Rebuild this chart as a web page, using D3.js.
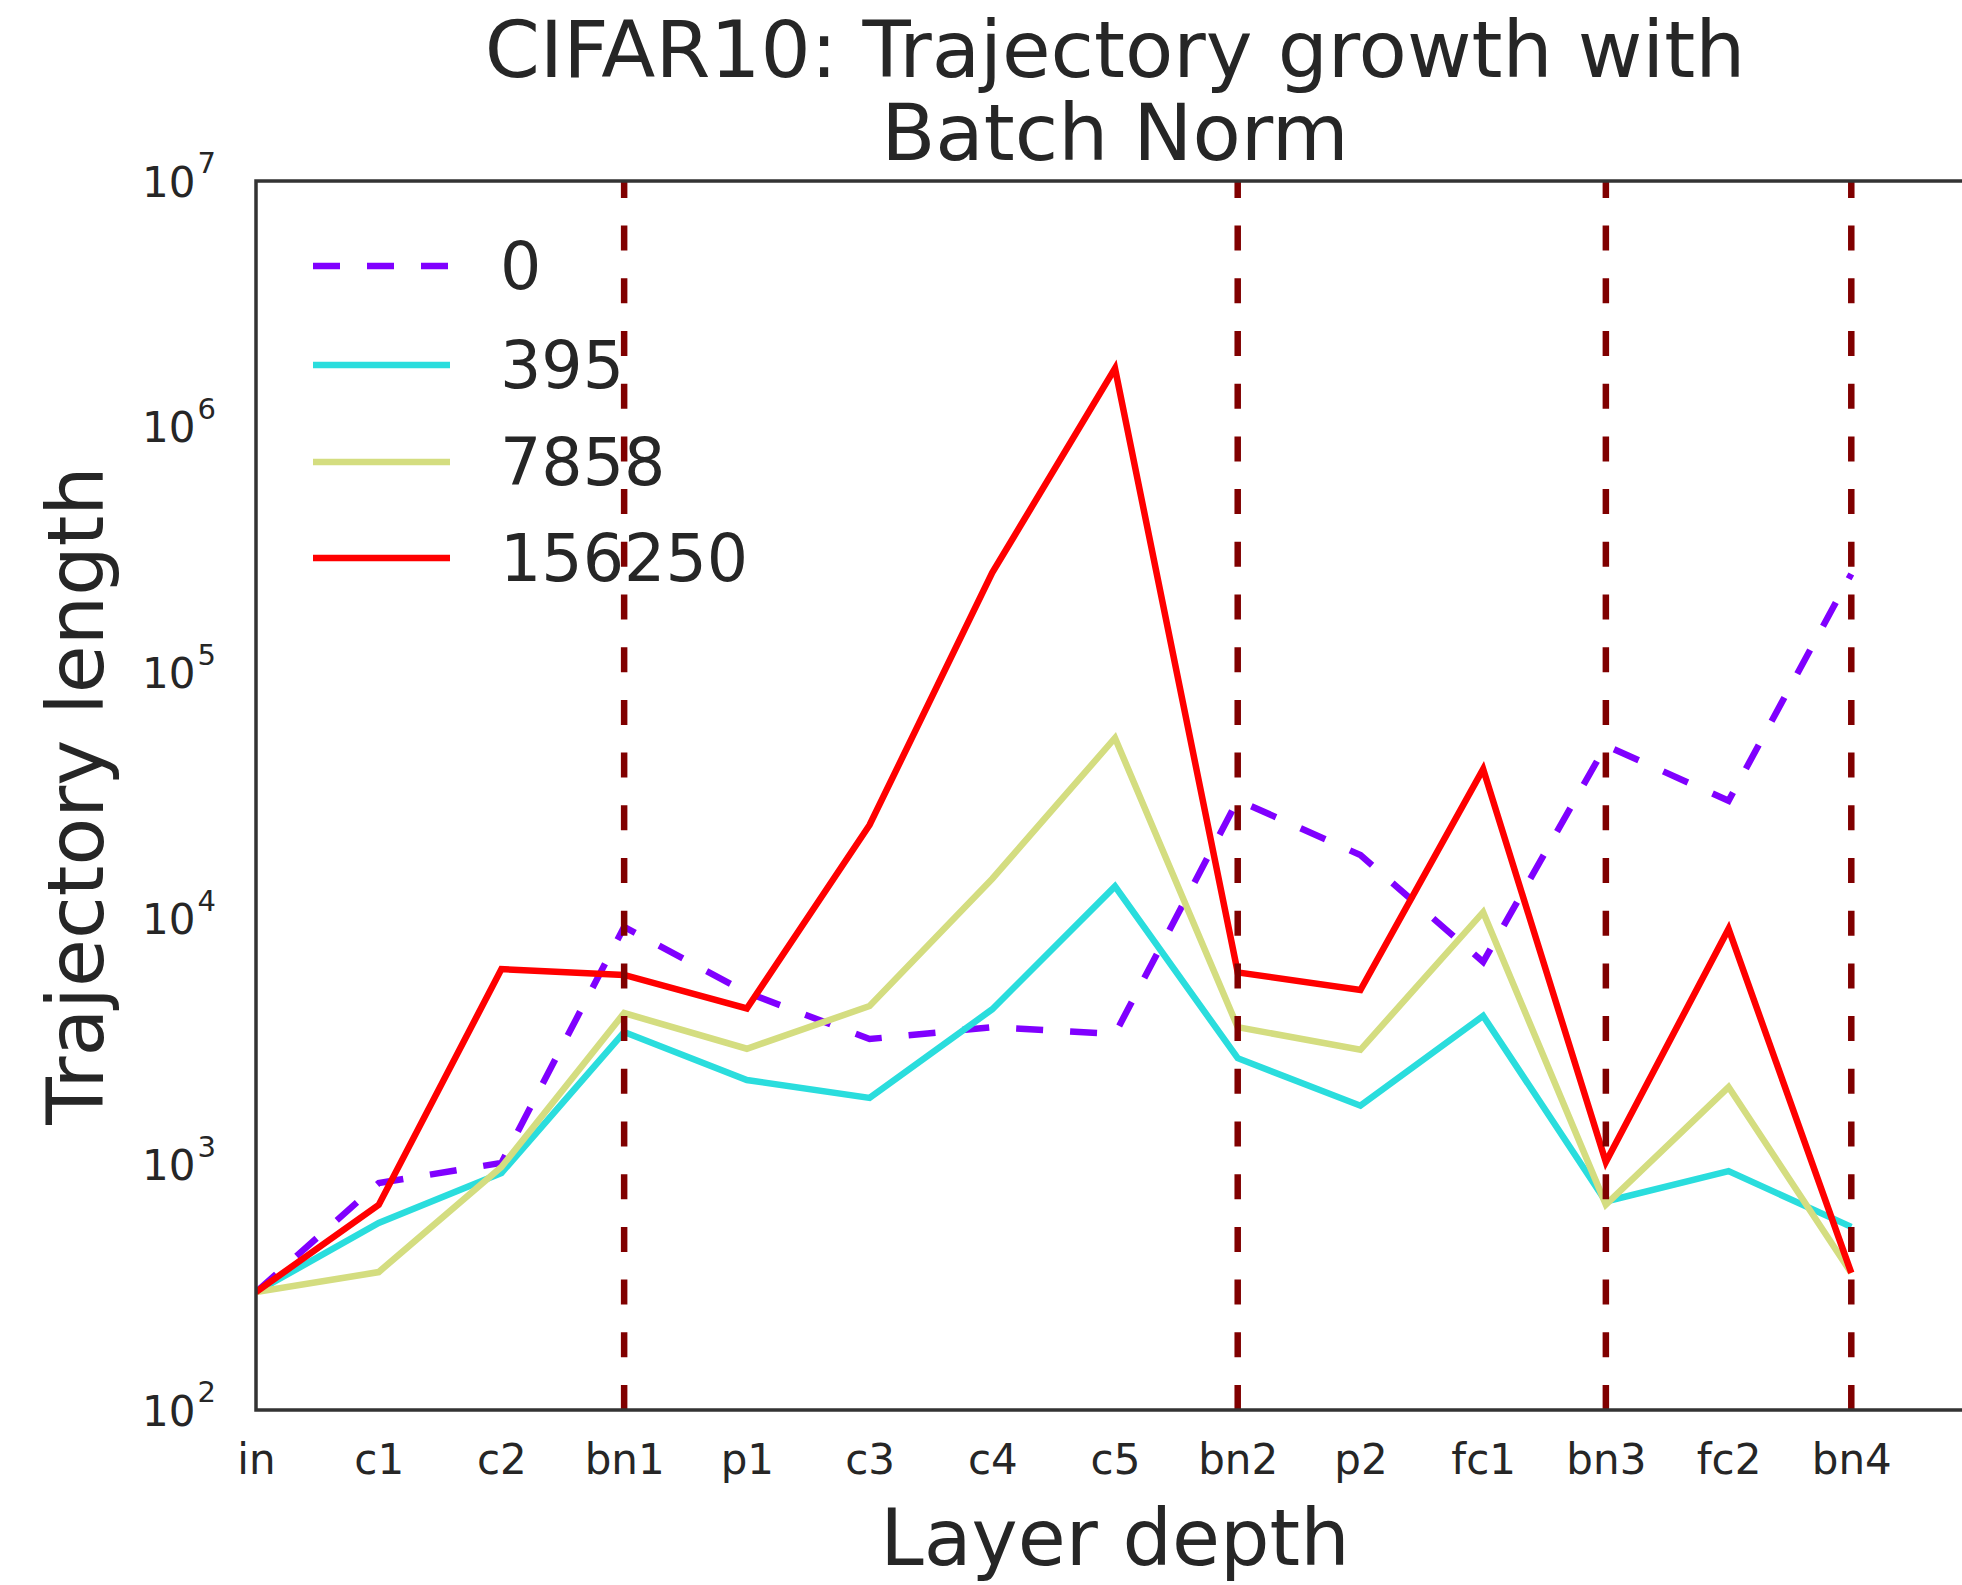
<!DOCTYPE html>
<html>
<head>
<meta charset="utf-8">
<script src="https://cdn.jsdelivr.net/npm/d3@7"></script>
<style>
  body { margin: 0; background: #fff; }
  text { font-family: "DejaVu Sans", sans-serif; fill: #262626; }
</style>
</head>
<body>
<div id="chart"></div>
<script>
// layer names along the x axis
var layers = ["in", "c1", "c2", "bn1", "p1", "c3", "c4", "c5", "bn2", "p2", "fc1", "bn3", "fc2", "bn4"]

// batch-norm layers get a vertical marker
var bnLayers = [3, 8, 11, 13]

// y ticks (powers of ten)
var yTicks = [2, 3, 4, 5, 6, 7]

// series names (legend) and values
var seriesNames = ["0", "395", "7858", "156250"]
var seriesColors = ["#8000ff", "#2adddd", "#d4dd80", "#ff0000"]

var traj0      = [302, 838, 1012, 9230, 4990, 3230, 3610, 3390, 30300, 18100, 6650, 50500, 30100, 252000]
var traj395    = [302, 577, 921, 3450, 2200, 1860, 4270, 13500, 2700, 1730, 4010, 705, 937, 556]
var traj7858   = [302, 364, 975, 4120, 2950, 4400, 14500, 54200, 3610, 2920, 10600, 685, 2060, 361]
var traj156250 = [302, 683, 6220, 5890, 4300, 24000, 255000, 1730000, 6030, 5110, 40500, 1020, 9060, 361]

var allSeries = [traj0, traj395, traj7858, traj156250]

var W = 1962, H = 1585
var m = { left: 256, top: 181, right: 1974, bottom: 1410 }

var svg = d3.select("#chart").append("svg")
  .attr("width", W)
  .attr("height", H)

var x = d3.scaleLinear().domain([0, 14]).range([m.left, m.right])
var y = d3.scaleLog().domain([1e2, 1e7]).range([m.bottom, m.top])

svg.append("defs").append("clipPath")
    .attr("id", "plot-clip")
  .append("rect")
    .attr("x", m.left).attr("y", m.top)
    .attr("width", m.right - m.left).attr("height", m.bottom - m.top)

// title, two lines
var title = svg.append("g")
title.append("text")
  .attr("x", (m.left + m.right) / 2)
  .attr("y", 77)
  .attr("text-anchor", "middle")
  .attr("font-size", 79)
  .text("CIFAR10: Trajectory growth with")
title.append("text")
  .attr("x", (m.left + m.right) / 2)
  .attr("y", 160)
  .attr("text-anchor", "middle")
  .attr("font-size", 79)
  .text("Batch Norm")

// x axis labels
var xAxis = svg.append("g")
  .attr("transform", "translate(0," + m.bottom + ")")
  .call(d3.axisBottom(x)
    .tickValues(d3.range(layers.length))
    .tickFormat(function (i) { return layers[i] })
    .tickSize(0))
xAxis.select(".domain").remove()
xAxis.selectAll("text")
  .attr("y", 64)
  .attr("dy", null)
  .attr("font-size", 42)
  .attr("font-family", null)
  .attr("fill", null)

// y axis labels, 10^n with superscript
var yAxis = svg.append("g")
  .attr("transform", "translate(" + m.left + ",0)")
  .call(d3.axisLeft(y)
    .tickValues(yTicks.map(function (p) { return Math.pow(10, p) }))
    .tickFormat(function () { return "" })
    .tickSize(0))
yAxis.select(".domain").remove()
yAxis.selectAll(".tick text")
  .attr("x", -40)
  .attr("dy", "0.36em")
  .attr("font-size", 42)
  .attr("font-family", null)
  .attr("fill", null)
  .each(function (d) {
    var t = d3.select(this)
    t.append("tspan").text("10")
    t.append("tspan")
      .attr("font-size", 29)
      .attr("dy", "-0.8em")
      .attr("dx", 2)
      .text(Math.round(Math.log10(d)))
  })

// data lines
var line = d3.line()
  .x(function (d, i) { return x(i) })
  .y(function (d) { return y(d) })

var plot = svg.append("g").attr("clip-path", "url(#plot-clip)")

plot.selectAll("path.series")
    .data(allSeries)
  .enter().append("path")
    .attr("class", "series")
    .attr("d", line)
    .attr("fill", "none")
    .attr("stroke", function (d, i) { return seriesColors[i] })
    .attr("stroke-width", 6.5)
    .attr("stroke-linejoin", "miter")
    .attr("stroke-dasharray", function (d, i) { return i === 0 ? "27,27" : null })

// batch-norm markers, dashes start from the bottom
plot.selectAll("line.bn")
    .data(bnLayers)
  .enter().append("line")
    .attr("class", "bn")
    .attr("x1", function (d) { return x(d) })
    .attr("x2", function (d) { return x(d) })
    .attr("y1", m.bottom)
    .attr("y2", m.top)
    .attr("stroke", "#800000")
    .attr("stroke-width", 6.5)
    .attr("stroke-dasharray", "25,27.7")

// spines
var spine = svg.append("g")
  .attr("fill", "none")
  .attr("stroke", "#333")
  .attr("stroke-width", 3.5)
spine.append("path")
  .attr("d", "M" + m.right + "," + m.top + "H" + m.left + "V" + m.bottom + "H" + m.right + "Z")

// axis titles
svg.append("text")
  .attr("x", (m.left + m.right) / 2)
  .attr("y", 1565)
  .attr("text-anchor", "middle")
  .attr("font-size", 78)
  .text("Layer depth")

svg.append("text")
  .attr("transform", "translate(103," + (m.top + m.bottom) / 2 + ") rotate(-90)")
  .attr("text-anchor", "middle")
  .attr("font-size", 78)
  .text("Trajectory length")

// legend
var legendRows = [266, 365, 462, 558]
var legend = svg.append("g")
var rows = legend.selectAll("g")
    .data(seriesNames)
  .enter().append("g")
    .attr("transform", function (d, i) { return "translate(0," + legendRows[i] + ")" })

rows.append("line")
  .attr("x1", 313).attr("x2", 450)
  .attr("y1", 0).attr("y2", 0)
  .attr("stroke", function (d, i) { return seriesColors[i] })
  .attr("stroke-width", 6.5)
  .attr("stroke-dasharray", function (d, i) { return i === 0 ? "27,27" : null })

rows.append("text")
  .attr("x", 500)
  .attr("dy", "0.36em")
  .attr("font-size", 65)
  .text(function (d) { return d })
</script>
</body>
</html>
